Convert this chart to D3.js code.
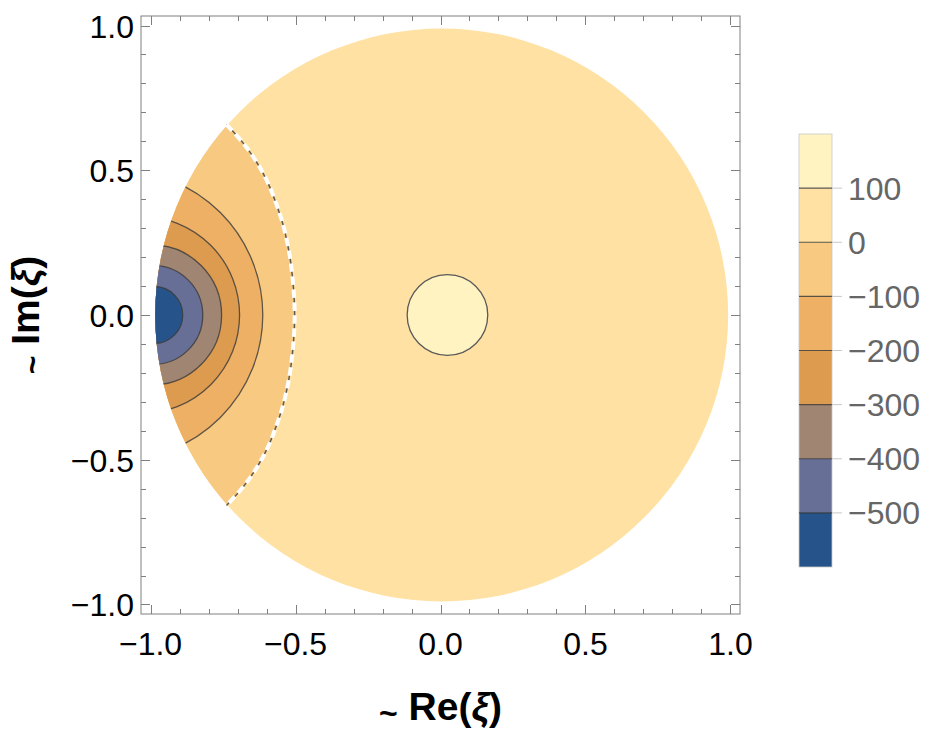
<!DOCTYPE html>
<html><head><meta charset="utf-8">
<script src="https://cdn.jsdelivr.net/npm/d3@7"></script>
<style>body{margin:0;background:#fff}</style>
</head><body>
<svg id="c" width="941" height="735"></svg>
<script>
// ---- data ----
const xTickValues = [-1.0, -0.5, 0.0, 0.5, 1.0];
const yTickValues = [-1.0, -0.5, 0.0, 0.5, 1.0];
const legendLevels = [100, 0, -100, -200, -300, -400, -500];
const legendLabels = ["100", "0", "\u2212100", "\u2212200", "\u2212300", "\u2212400", "\u2212500"];
// band colours from highest (>100) to lowest (<-500)
const bandColors = ["#FFF3C2", "#FEE1A3", "#F7C981", "#EEB065", "#DD9B50", "#A08672", "#676F97", "#26548A"];
// contour levels inside the left region: where each crosses the real axis and where it meets the disk rim
const contourLevels = [-100, -200, -300, -400, -500];
const contourAxisX = [-0.613, -0.693, -0.755, -0.820, -0.889];
const contourEdgeY = [0.442, 0.324, 0.238, 0.169, 0.098];
// dashed boundary (upper half, mirrored below)
const boundaryX = [-0.503, -0.516, -0.538, -0.555, -0.594, -0.631, -0.679, -0.738];
const boundaryY = [0.000, 0.178, 0.293, 0.351, 0.454, 0.523, 0.592, 0.658];
// domain disk and central bump (level > 100)
const diskCX = 0.004, diskR = 0.988;
const peakCX = 0.024, peakR = 0.139;

const svg = d3.select("#c");
const font = "'Liberation Sans', Arial, Helvetica, sans-serif";
const L = 141, R = 740, T = 16, B = 614;
const x = d3.scaleLinear().domain([-1.033, 1.033]).range([L, R]);
const y = d3.scaleLinear().domain([-1.033, 1.033]).range([B, T]);
const k = x(1) - x(0);

const defs = svg.append("defs");
defs.append("clipPath").attr("id", "diskClip")
  .append("circle").attr("cx", x(diskCX)).attr("cy", y(0)).attr("r", diskR * k);

// boundary curve points from top to bottom
const bPts = [];
for (let i = boundaryX.length - 1; i >= 0; i--) bPts.push([boundaryX[i], boundaryY[i]]);
for (let i = 1; i < boundaryX.length; i++) bPts.push([boundaryX[i], -boundaryY[i]]);
const bLine = d3.line().x(d => x(d[0])).y(d => y(d[1])).curve(d3.curveCatmullRom.alpha(0.5));
const yEnd = boundaryY[boundaryY.length - 1];
const leftRegionD = bLine(bPts) + `L${x(-1.5)},${y(-yEnd - 0.02)}L${x(-1.5)},${y(yEnd + 0.02)}Z`;
defs.append("clipPath").attr("id", "leftClip").append("path").attr("d", leftRegionD);

// main disk (0..100 band)
svg.append("circle").attr("cx", x(diskCX)).attr("cy", y(0)).attr("r", diskR * k)
  .attr("fill", bandColors[1]);

// left region with nested contours
const gl = svg.append("g").attr("clip-path", "url(#diskClip)")
  .append("g").attr("clip-path", "url(#leftClip)");
gl.append("rect").attr("x", x(-1.2)).attr("y", y(1)).attr("width", k).attr("height", 2 * k)
  .attr("fill", bandColors[2]);
contourLevels.forEach((lev, i) => {
  const ye = contourEdgeY[i];
  const xe = diskCX - Math.sqrt(diskR * diskR - ye * ye);
  const xa = contourAxisX[i];
  const cx = (xa * xa - xe * xe - ye * ye) / (2 * (xa - xe));
  const r = xa - cx;
  gl.append("circle").attr("cx", x(cx)).attr("cy", y(0)).attr("r", r * k)
    .attr("fill", bandColors[3 + i])
    .attr("stroke", "#3a3a3a").attr("stroke-opacity", 0.8).attr("stroke-width", 1.3);
});

// dashed boundary
const bPath = bLine(bPts);
svg.append("path").attr("d", bPath).attr("fill", "none")
  .attr("stroke", "#5e5a52").attr("stroke-width", 1.5);
svg.append("path").attr("d", bPath).attr("fill", "none")
  .attr("stroke", "#ffffff").attr("stroke-width", 4).attr("stroke-dasharray", "8.5,4.5");

// central bump
svg.append("circle").attr("cx", x(peakCX)).attr("cy", y(0)).attr("r", peakR * k)
  .attr("fill", bandColors[0]).attr("stroke", "#5a5a5a").attr("stroke-width", 1.3);

// frame
svg.append("rect").attr("x", L).attr("y", T).attr("width", R - L).attr("height", B - T)
  .attr("fill", "none").attr("stroke", "#808080").attr("stroke-width", 1);

// ticks (inward on all four sides)
const minor = d3.range(-10, 11).map(v => v / 10);
const tg = svg.append("g").attr("stroke", "#808080").attr("stroke-width", 1);
minor.forEach(v => {
  const major = xTickValues.some(t => Math.abs(t - v) < 1e-9);
  const len = major ? 9 : 5;
  const px = Math.round(x(v)) + 0.5, py = Math.round(y(v)) + 0.5;
  tg.append("line").attr("x1", px).attr("x2", px).attr("y1", B).attr("y2", B - len);
  tg.append("line").attr("x1", px).attr("x2", px).attr("y1", T).attr("y2", T + len);
  tg.append("line").attr("y1", py).attr("y2", py).attr("x1", L).attr("x2", L + len);
  tg.append("line").attr("y1", py).attr("y2", py).attr("x1", R).attr("x2", R - len);
});

const fmt = v => (v < 0 ? "\u2212" : "") + Math.abs(v).toFixed(1);
svg.append("g").selectAll("text").data(xTickValues).join("text")
  .attr("x", d => x(d)).attr("y", 655).attr("text-anchor", "middle")
  .attr("font-family", font).attr("font-size", 32).attr("fill", "#000").text(fmt);
svg.append("g").selectAll("text").data(yTickValues).join("text")
  .attr("x", 134).attr("y", d => y(d) + 12).attr("text-anchor", "end")
  .attr("font-family", font).attr("font-size", 32).attr("fill", "#000").text(fmt);

// axis titles
const xt = svg.append("text").attr("x", x(0)).attr("y", 720).attr("text-anchor", "middle")
  .attr("font-family", font).attr("font-size", 39).attr("font-weight", "bold");
xt.append("tspan").attr("font-size", 32).attr("dy", 4).text("~");
xt.append("tspan").attr("dy", -4).text(" Re(");
xt.append("tspan").attr("font-style", "italic").text("\u03BE");
xt.append("tspan").text(")");
const yt = svg.append("text").attr("transform", `translate(39,${y(0)}) rotate(-90)`)
  .attr("text-anchor", "middle")
  .attr("font-family", font).attr("font-size", 39).attr("font-weight", "bold");
yt.append("tspan").attr("font-size", 32).attr("dy", 4).text("~");
yt.append("tspan").attr("dy", -4).text(" Im(");
yt.append("tspan").attr("font-style", "italic").text("\u03BE");
yt.append("tspan").text(")");

// legend colour bar
const ly = d3.scaleLinear().domain([-600, 200]).range([567, 134]);
const bx0 = 799, bx1 = 832;
const bounds = [200, ...legendLevels, -600];
const lg = svg.append("g");
bandColors.forEach((c, i) => {
  lg.append("rect").attr("x", bx0).attr("y", ly(bounds[i])).attr("width", bx1 - bx0)
    .attr("height", ly(bounds[i + 1]) - ly(bounds[i])).attr("fill", c);
});
lg.append("rect").attr("x", bx0).attr("y", ly(200)).attr("width", bx1 - bx0)
  .attr("height", ly(-600) - ly(200)).attr("fill", "none").attr("stroke", "#c8c8c8").attr("stroke-width", 0.8);
legendLevels.forEach((lev, i) => {
  lg.append("line").attr("x1", bx0).attr("x2", bx1).attr("y1", ly(lev)).attr("y2", ly(lev))
    .attr("stroke", "#333").attr("stroke-opacity", 0.8).attr("stroke-width", 1.1);
  lg.append("line").attr("x1", bx1).attr("x2", bx1 + 10).attr("y1", ly(lev)).attr("y2", ly(lev))
    .attr("stroke", "#c8c8c8").attr("stroke-width", 1);
  lg.append("text").attr("x", 848).attr("y", ly(lev) + 11.5)
    .attr("font-family", font).attr("font-size", 32).attr("fill", "#666").text(legendLabels[i]);
});
</script>
</body></html>
